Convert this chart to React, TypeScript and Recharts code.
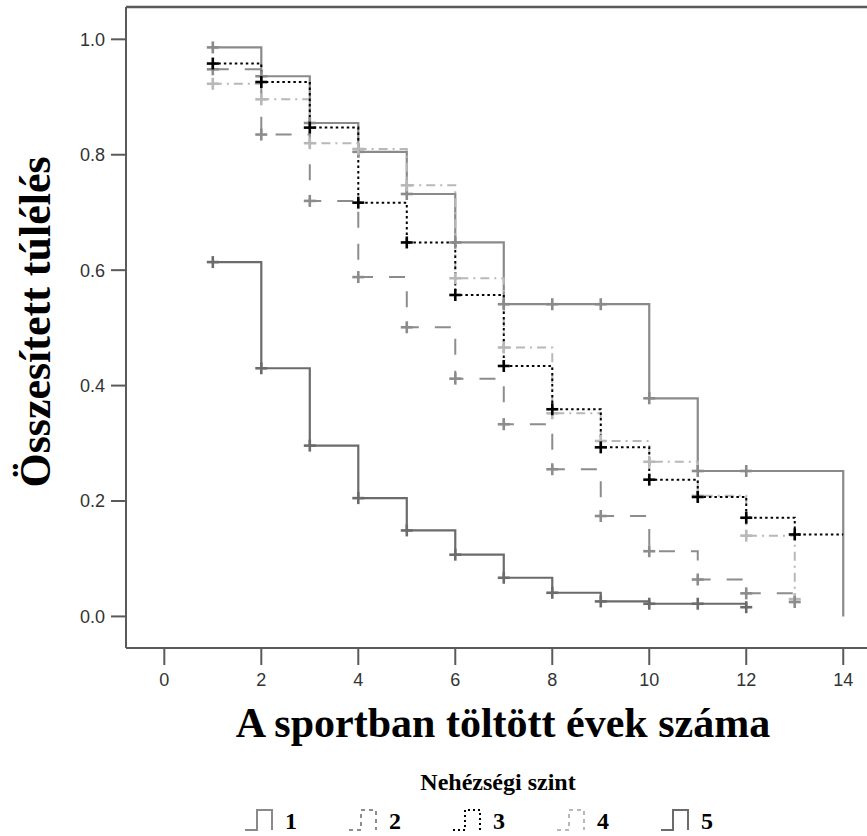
import React from 'react';
import { LineChart, Line, XAxis, YAxis, ReferenceLine } from 'recharts';

// A sportban töltött évek (x) es az egyes nehézségi szintek túlélési görbéi
const years = [1, 2, 3, 4, 5, 6, 7, 8, 9, 10, 11, 12, 13, 14];
const level1 = [0.986, 0.936, 0.855, 0.805, 0.732, 0.648, 0.541, 0.541, 0.541, 0.378, 0.252, 0.252, null, 0];
const level2 = [0.948, 0.835, 0.72, 0.588, 0.501, 0.412, 0.333, 0.255, 0.174, 0.113, 0.064, 0.04, 0.025, null];
const level3 = [0.958, 0.926, 0.847, 0.717, 0.648, 0.557, 0.434, 0.359, 0.293, 0.237, 0.207, 0.171, 0.142, 0.142];
const level4 = [0.923, 0.896, 0.82, 0.81, 0.747, 0.586, 0.466, 0.352, 0.304, 0.268, 0.209, 0.14, 0.03, null];
const level5 = [0.614, 0.43, 0.296, 0.205, 0.149, 0.107, 0.067, 0.041, 0.026, 0.022, 0.022, 0.016, null, null];

const xTicks = [0, 2, 4, 6, 8, 10, 12, 14];
const yTicks = [0, 0.2, 0.4, 0.6, 0.8, 1.0];
const legendLabels = ['1', '2', '3', '4', '5'];

const data = years.map((year, i) => ({
  year,
  s1: level1[i],
  s2: level2[i],
  s3: level3[i],
  s4: level4[i],
  s5: level5[i],
}));

const SERIES = [
  { key: 's1', color: '#8a8a8a', dash: undefined, width: 2.2 },
  { key: 's2', color: '#8c8c8c', dash: '16 16', width: 2 },
  { key: 's3', color: '#000000', dash: '2.5 3', width: 2 },
  { key: 's4', color: '#b8b8b8', dash: '9 5 2 5', width: 2 },
  { key: 's5', color: '#6b6b6b', dash: undefined, width: 2.2 },
];

const AXIS = '#5a5a5a';
const SERIF = '"Liberation Serif", "Times New Roman", serif';
const SANS = '"Liberation Sans", Arial, sans-serif';

// censored mark "+", no mark on the last year
const plusDot = (color: string) => (props: any) => {
  const { cx, cy, payload, index, value } = props;
  if (cy == null || value == null || payload.year >= 14) return <g key={`d-${index}`} />;
  return (
    <g key={`d-${index}`} stroke={color} strokeWidth={2.6}>
      <line x1={cx - 6} y1={cy} x2={cx + 6} y2={cy} />
      <line x1={cx} y1={cy - 6} x2={cx} y2={cy + 6} />
    </g>
  );
};

const App: React.FC = () => {
  const drawOrder = [4, 0, 3, 1, 2];
  return (
    <div style={{ position: 'absolute', left: 0, top: 0, width: 867, height: 836, background: '#fff' }}>
      <LineChart width={867} height={836} data={data} margin={{ top: 7, right: 0, bottom: 0, left: 0 }}>
        <XAxis
          dataKey="year"
          type="number"
          domain={[-0.79, 14.49]}
          ticks={xTicks}
          allowDataOverflow
          height={188}
          tickSize={17}
          tickMargin={8}
          axisLine={{ stroke: AXIS, strokeWidth: 2 }}
          tickLine={{ stroke: AXIS, strokeWidth: 2 }}
          tick={{ fill: '#333', fontSize: 18, fontFamily: SANS }}
        />
        <YAxis
          type="number"
          domain={[-0.0547, 1.056]}
          ticks={yTicks}
          allowDataOverflow
          width={126}
          tickSize={15}
          tickMargin={6}
          tickFormatter={(v: number) => v.toFixed(1)}
          axisLine={{ stroke: AXIS, strokeWidth: 2 }}
          tickLine={{ stroke: AXIS, strokeWidth: 2 }}
          tick={{ fill: '#333', fontSize: 18, fontFamily: SANS }}
        />
        <ReferenceLine y={1.056} stroke={AXIS} strokeWidth={2.5} />
        {drawOrder.map((i) => {
          const s = SERIES[i];
          return (
            <Line
              key={s.key}
              dataKey={s.key}
              type="stepAfter"
              stroke={s.color}
              strokeWidth={s.width}
              strokeDasharray={s.dash}
              connectNulls
              dot={plusDot(s.color)}
              activeDot={false}
              isAnimationActive={false}
            />
          );
        })}
      </LineChart>
      <svg
        width={867}
        height={836}
        style={{ position: 'absolute', left: 0, top: 0, pointerEvents: 'none' }}
      >
        <text
          transform="translate(50,322) rotate(-90)"
          textAnchor="middle"
          fontFamily={SERIF}
          fontWeight="bold"
          fontSize={44}
          fill="#000"
        >
          Összesített túlélés
        </text>
        <text x={503} y={737} textAnchor="middle" fontFamily={SERIF} fontWeight="bold" fontSize={42} fill="#000">
          A sportban töltött évek száma
        </text>
        <text x={498} y={790} textAnchor="middle" fontFamily={SERIF} fontWeight="bold" fontSize={24} fill="#000">
          Nehézségi szint
        </text>
        {legendLabels.map((label, i) => {
          const s = SERIES[i];
          const nx = 285 + i * 104;
          const ix = nx - 40;
          return (
            <g key={label}>
              <path
                d={`M${ix},830 H${ix + 12} V810 H${ix + 27} V830`}
                fill="none"
                stroke={s.color}
                strokeWidth={2}
                strokeDasharray={s.dash ? (i === 2 ? '2 3' : '4 4') : undefined}
              />
              <text x={nx} y={829} fontFamily={SERIF} fontWeight="bold" fontSize={24} fill="#000">
                {label}
              </text>
            </g>
          );
        })}
      </svg>
    </div>
  );
};

export default App;
